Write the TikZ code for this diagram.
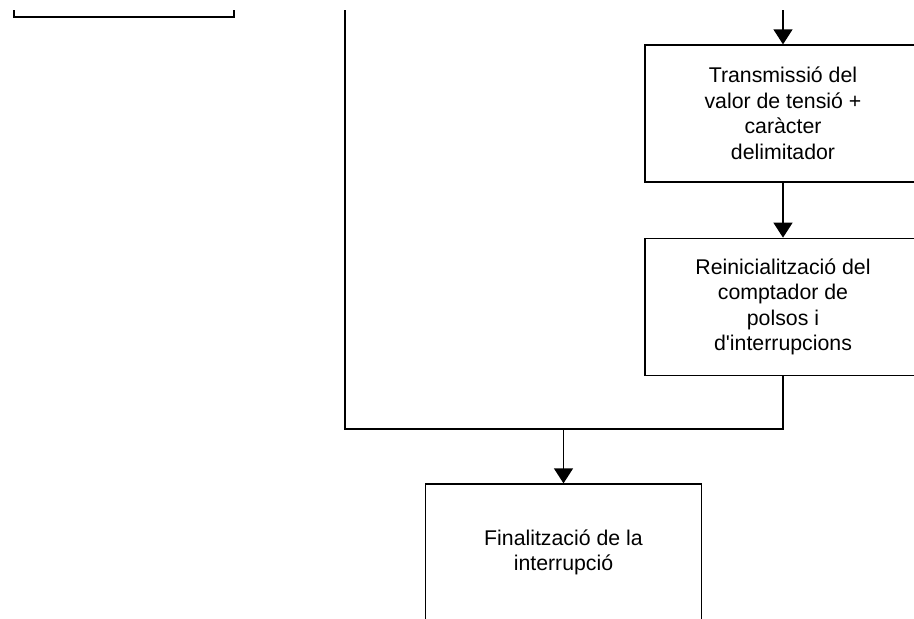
\documentclass[tikz,border=0pt]{standalone}
\usepackage{fontspec}
\setmainfont{Liberation Sans}
\usetikzlibrary{
  arrows.meta,
  positioning,
}
\tikzset{
  >={Triangle[length=15pt,width=19pt]},
}

\begin{document}
\begin{tikzpicture}[x=1pt, y=-1pt, line width=1.3pt, node distance=55pt,
    every node/.style={draw, minimum width=276pt, minimum height=137pt, inner sep=0pt,
      align=center, font=\fontsize{21.3}{25.5}\selectfont}]
      \useasboundingbox (0,0) rectangle (914,619);
      \clip (0,10) rectangle (914,619);
      \node [minimum width=220pt] (prev) at (124,-51.5) {};
      \node (tx) at (783,113.5) {Transmissió del\\valor de tensió +\\caràcter\\delimitador};
      \node [below=of tx] (reset) {Reinicialització del\\comptador de\\polsos i\\d\textquotesingle interrupcions};
      \node (fin) at (563.5,552.5) {Finalització de la\\interrupció};
      \coordinate (in) at (783,0);
      \coordinate (other) at (345,0);
      \coordinate (join) at (563.5,429);
      \draw [->] (in) -- (tx);
      \draw [->] (tx) -- (reset);
      \draw (reset.south) |- (join);
      \draw (other) |- (join);
      \draw [->] (join) -- (fin);
    \end{tikzpicture}
\end{document}
